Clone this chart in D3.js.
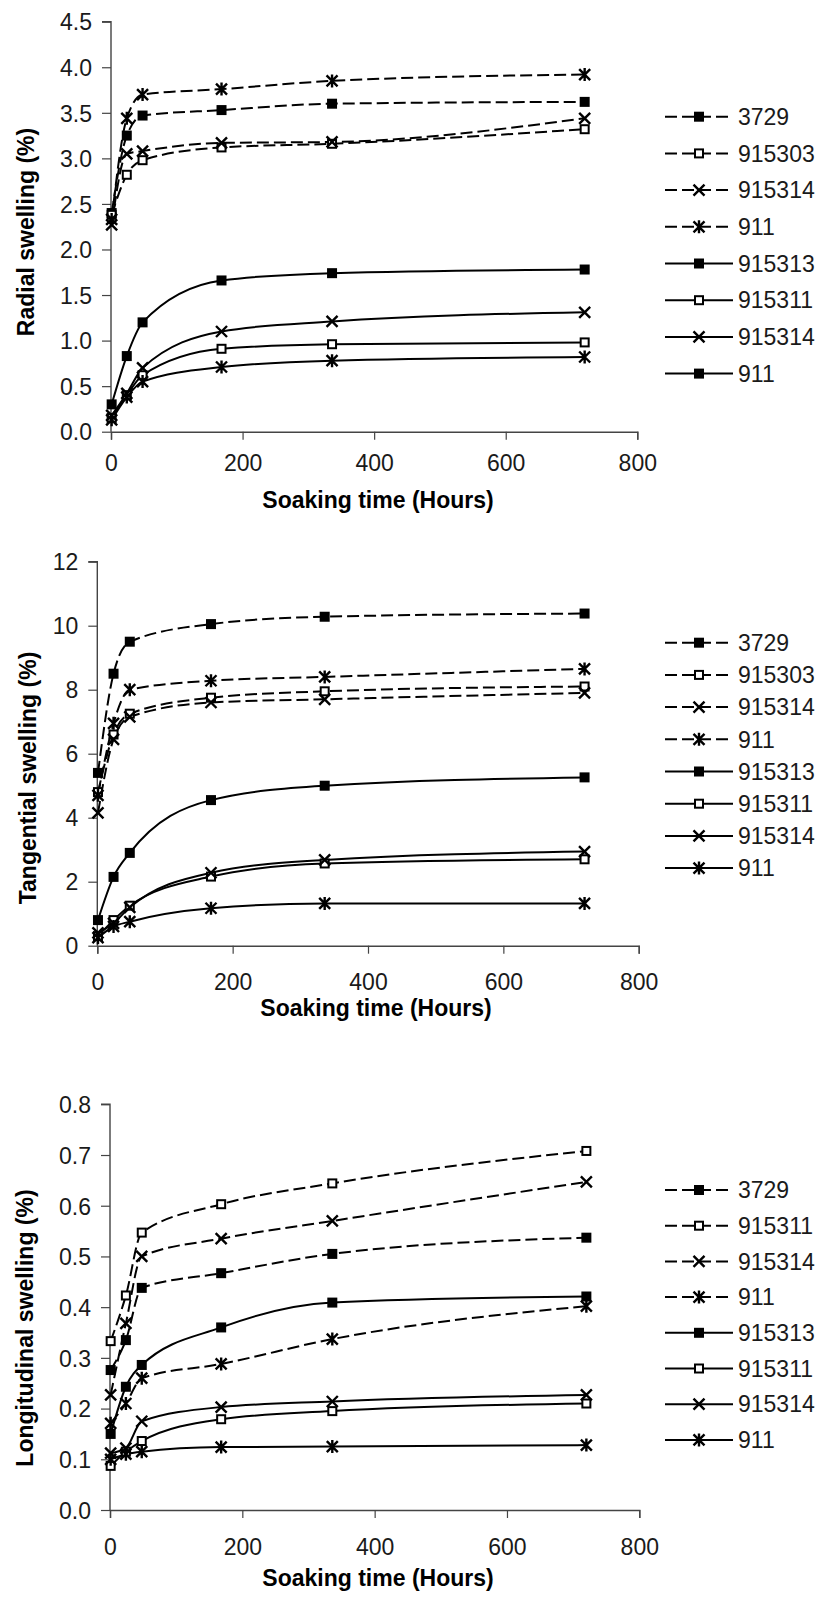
<!DOCTYPE html>
<html><head><meta charset="utf-8">
<script src="https://cdn.jsdelivr.net/npm/d3@7"></script>
<style>body{margin:0;background:#fff;} svg{display:block;font-family:"Liberation Sans",Arial,sans-serif;}</style>
</head><body>
<svg id="c" width="824" height="1602"></svg>
<script>
// ---- data ----
const hours = [1, 24, 48, 168, 336, 720];
const xTicks = [0, 200, 400, 600, 800];

const radialNames = ["3729","915303","915314","911","915313","915311","915314","911"];
const radialValues = [
  [2.40, 3.25, 3.47, 3.53, 3.60, 3.62],
  [2.38, 2.82, 2.98, 3.12, 3.16, 3.32],
  [2.27, 3.05, 3.08, 3.17, 3.18, 3.44],
  [2.33, 3.44, 3.70, 3.76, 3.85, 3.92],
  [0.30, 0.83, 1.20, 1.66, 1.74, 1.78],
  [0.15, 0.40, 0.62, 0.91, 0.96, 0.98],
  [0.18, 0.42, 0.70, 1.10, 1.21, 1.31],
  [0.13, 0.38, 0.55, 0.71, 0.78, 0.82]
];
const radialTicks = [0,0.5,1,1.5,2,2.5,3,3.5,4,4.5];

const tangNames = ["3729","915303","915314","911","915313","915311","915314","911"];
const tangValues = [
  [5.40, 8.50, 9.50, 10.05, 10.28, 10.38],
  [4.80, 6.60, 7.25, 7.75, 7.95, 8.10],
  [4.15, 6.45, 7.15, 7.60, 7.70, 7.90],
  [4.70, 6.95, 8.00, 8.28, 8.40, 8.65],
  [0.80, 2.15, 2.90, 4.55, 5.00, 5.26],
  [0.30, 0.80, 1.25, 2.16, 2.57, 2.70],
  [0.40, 0.70, 1.20, 2.28, 2.68, 2.94],
  [0.25, 0.60, 0.75, 1.17, 1.32, 1.32]
];
const tangTicks = [0,2,4,6,8,10,12];

const longNames = ["3729","915311","915314","911","915313","915311","915314","911"];
const longValues = [
  [0.276, 0.335, 0.438, 0.467, 0.505, 0.537],
  [0.333, 0.423, 0.547, 0.603, 0.644, 0.708],
  [0.227, 0.368, 0.500, 0.535, 0.570, 0.647],
  [0.171, 0.210, 0.260, 0.288, 0.337, 0.402],
  [0.150, 0.243, 0.286, 0.360, 0.409, 0.421],
  [0.087, 0.115, 0.136, 0.179, 0.195, 0.210],
  [0.112, 0.122, 0.175, 0.203, 0.214, 0.227],
  [0.100, 0.110, 0.115, 0.124, 0.125, 0.128]
];
const longTicks = [0,0.1,0.2,0.3,0.4,0.5,0.6,0.7,0.8];

// styles
const dashedFlags = [true,true,true,true,false,false,false,false];
const seriesMarkers = ["sq","osq","x","ast","sq","osq","x","ast"];
const legendMarkers1 = ["sq","osq","x","ast","sq","osq","x","sq"];

const panels = [
  {names: radialNames, values: radialValues, ticks: radialTicks, fmt: d3.format(".1f"),
   yMax: 4.5, x0: 111, x1: 637.3, y0: 431.7, y1: 21.7, ytitle: "Radial swelling (%)",
   ytx: 26, yty: 232, xly: 463, xtx: 378, xty: 500, legY: 116.7, legStep: 36.7, legMarkers: legendMarkers1},
  {names: tangNames, values: tangValues, ticks: tangTicks, fmt: d3.format("d"),
   yMax: 12, x0: 97.3, x1: 638.7, y0: 945.7, y1: 561.7, ytitle: "Tangential swelling (%)",
   ytx: 28, yty: 778, xly: 981.7, xtx: 376, xty: 1008, legY: 642.7, legStep: 32.2, legMarkers: seriesMarkers},
  {names: longNames, values: longValues, ticks: longTicks, fmt: d3.format(".1f"),
   yMax: 0.8, x0: 110, x1: 639.3, y0: 1510, y1: 1104.3, ytitle: "Longitudinal swelling (%)",
   ytx: 25, yty: 1328, xly: 1546.7, xtx: 378, xty: 1578, legY: 1190, legStep: 35.7, legMarkers: seriesMarkers}
];

const svg = d3.select("#c");
const axisColor = "#444";

function drawMarker(g, type, cx, cy) {
  if (type === "sq") {
    g.append("rect").attr("x", cx-5).attr("y", cy-5).attr("width", 10).attr("height", 10).attr("fill", "#000");
  } else if (type === "osq") {
    g.append("rect").attr("x", cx-4).attr("y", cy-4).attr("width", 8).attr("height", 8)
      .attr("fill", "#fff").attr("stroke", "#000").attr("stroke-width", 2);
  } else if (type === "x") {
    const h = 5.5;
    g.append("path").attr("d", `M${cx-h},${cy-h}L${cx+h},${cy+h}M${cx-h},${cy+h}L${cx+h},${cy-h}`)
      .attr("stroke", "#000").attr("stroke-width", 2.4).attr("fill", "none");
  } else if (type === "ast") {
    const h = 5.5;
    g.append("path").attr("d", `M${cx-h},${cy-h}L${cx+h},${cy+h}M${cx-h},${cy+h}L${cx+h},${cy-h}M${cx},${cy-h-1}L${cx},${cy+h+1}`)
      .attr("stroke", "#000").attr("stroke-width", 2.4).attr("fill", "none");
  }
}

panels.forEach(p => {
  const x = d3.scaleLinear().domain([0, 800]).range([p.x0, p.x1]);
  const y = d3.scaleLinear().domain([0, p.yMax]).range([p.y0, p.y1]);
  const g = svg.append("g");

  // y axis
  const ya = g.append("g").attr("transform", `translate(${p.x0},0)`)
    .call(d3.axisLeft(y).tickValues(p.ticks).tickFormat(p.fmt).tickSize(9).tickPadding(10));
  // x axis
  const xa = g.append("g").attr("transform", `translate(0,${p.y0})`)
    .call(d3.axisBottom(x).tickValues(xTicks).tickSize(8).tickPadding(0));
  [ya, xa].forEach(a => {
    a.select(".domain").attr("stroke", axisColor).attr("stroke-width", 1.4);
    a.selectAll(".tick line").attr("stroke", axisColor).attr("stroke-width", 1.2);
    a.selectAll("text").attr("font-size", 23).attr("fill", "#1a1a1a")
      .attr("font-family", "'Liberation Sans', Arial, sans-serif");
  });
  ya.selectAll("text").attr("dy", "0.36em");
  xa.selectAll("text").attr("y", p.xly - p.y0).attr("dy", "0.36em");
  ya.select(".domain").attr("d", `M-9,${p.y1}H0V${p.y0}`);

  // titles
  g.append("text").attr("transform", `translate(${p.ytx},${p.yty}) rotate(-90)`)
    .attr("text-anchor", "middle").attr("dy", "0.36em").attr("font-weight", "bold")
    .attr("font-size", 23).text(p.ytitle);
  g.append("text").attr("x", p.xtx).attr("y", p.xty).attr("text-anchor", "middle")
    .attr("dy", "0.36em").attr("font-weight", "bold").attr("font-size", 23).text("Soaking time (Hours)");

  const line = d3.line().x((d, i) => x(hours[i])).y(d => y(d)).curve(d3.curveMonotoneX);

  p.values.forEach((vals, si) => {
    g.append("path").attr("d", line(vals)).attr("fill", "none").attr("stroke", "#000")
      .attr("stroke-width", 2).attr("stroke-dasharray", dashedFlags[si] ? "12,5" : null);
  });
  p.values.forEach((vals, si) => {
    const mg = g.append("g");
    vals.forEach((v, i) => drawMarker(mg, seriesMarkers[si], x(hours[i]), y(v)));
  });

  // legend
  const lx1 = 665, lx2 = 733, lm = 699;
  p.names.forEach((name, i) => {
    const ly = p.legY + i * p.legStep;
    const lg = g.append("g");
    lg.append("line").attr("x1", lx1).attr("x2", lx2).attr("y1", ly).attr("y2", ly)
      .attr("stroke", "#000").attr("stroke-width", 2)
      .attr("stroke-dasharray", dashedFlags[i] ? "12,5" : null);
    drawMarker(lg, p.legMarkers[i], lm, ly);
    lg.append("text").attr("x", 738).attr("y", ly).attr("dy", "0.36em")
      .attr("font-size", 23).attr("fill", "#1a1a1a").text(name);
  });
});
</script>
</body></html>
